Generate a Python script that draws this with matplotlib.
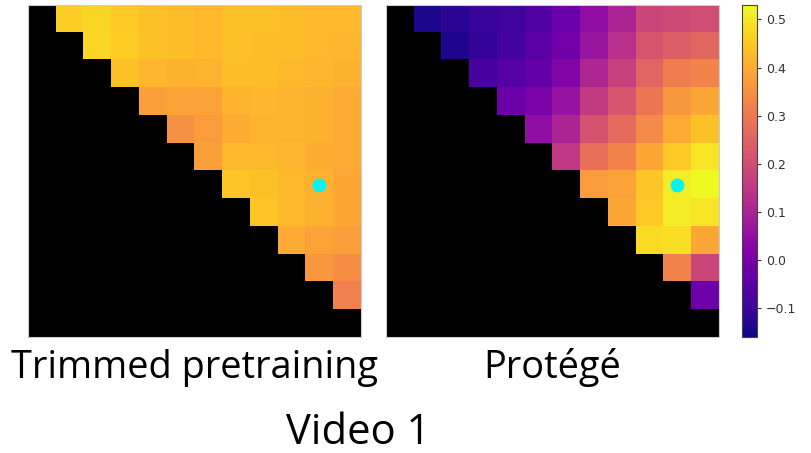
import matplotlib.pyplot as plt
import numpy as np

N = 12
VMIN, VMAX = -0.16, 0.53

# upper-triangle values, row i holds columns i+1 .. 11
trimmed_rows = [
    [0.462, 0.474, 0.454, 0.440, 0.433, 0.427, 0.440, 0.440, 0.433, 0.427, 0.427],
    [0.474, 0.458, 0.440, 0.433, 0.427, 0.440, 0.433, 0.433, 0.427, 0.420],
    [0.440, 0.420, 0.413, 0.416, 0.433, 0.433, 0.427, 0.420, 0.413],
    [0.378, 0.385, 0.385, 0.416, 0.420, 0.416, 0.413, 0.399],
    [0.351, 0.371, 0.406, 0.416, 0.416, 0.413, 0.399],
    [0.378, 0.427, 0.427, 0.420, 0.406, 0.399],
    [0.447, 0.440, 0.427, 0.413, 0.392],
    [0.447, 0.427, 0.413, 0.392],
    [0.399, 0.385, 0.378],
    [0.364, 0.344],
    [0.316],
]

protege_rows = [
    [-0.146, -0.125, -0.105, -0.091, -0.063, -0.022, 0.047, 0.102, 0.185, 0.192, 0.199],
    [-0.139, -0.112, -0.084, -0.050, -0.008, 0.068, 0.130, 0.220, 0.240, 0.260],
    [-0.077, -0.057, -0.036, 0.019, 0.109, 0.171, 0.254, 0.309, 0.323],
    [-0.022, 0.006, 0.061, 0.157, 0.220, 0.295, 0.364, 0.392],
    [0.047, 0.102, 0.213, 0.268, 0.337, 0.399, 0.440],
    [0.150, 0.282, 0.323, 0.392, 0.454, 0.496],
    [0.371, 0.385, 0.447, 0.509, 0.530],
    [0.392, 0.454, 0.509, 0.496],
    [0.482, 0.489, 0.392],
    [0.323, 0.185],
    [-0.015],
]

marker_row, marker_col = 6, 10

titles = ["Trimmed pretraining", "Protégé"]
suptitle = "Video 1"
cbar_ticks = [-0.1, 0.0, 0.1, 0.2, 0.3, 0.4, 0.5]


def to_matrix(rows):
    m = np.full((N, N), np.nan)
    for i, vals in enumerate(rows):
        m[i, i + 1:i + 1 + len(vals)] = vals
    return np.ma.masked_invalid(m)


cmap = plt.get_cmap("plasma").copy()
cmap.set_bad("black")

fig = plt.figure(figsize=(8.11, 4.53), dpi=100)
panels = [
    fig.add_axes([0.0345, 0.256, 0.4106, 0.733]),
    fig.add_axes([0.476, 0.256, 0.4106, 0.733]),
]

for ax, rows, title in zip(panels, [trimmed_rows, protege_rows], titles):
    im = ax.imshow(to_matrix(rows), cmap=cmap, vmin=VMIN, vmax=VMAX,
                   interpolation="nearest", aspect="auto")
    ax.scatter([marker_col], [marker_row], s=80, color="#00f5f5", zorder=3)
    ax.set_xticks([])
    ax.set_yticks([])
    for sp in ax.spines.values():
        sp.set_color("#cccccc")
        sp.set_linewidth(0.8)
    pos = ax.get_position()
    fig.text(pos.x0 + pos.width / 2, 0.166, title, ha="center", va="baseline",
             fontsize=27.3, family="Open Sans")

cax = fig.add_axes([0.915, 0.256, 0.0185, 0.733])
cb = fig.colorbar(im, cax=cax, ticks=cbar_ticks)
cb.outline.set_edgecolor("#444444")
cb.outline.set_linewidth(0.8)
cax.tick_params(labelsize=9, colors="#333333", length=3, width=0.8)

fig.text(0.442, 0.02, suptitle, ha="center", va="baseline", fontsize=30,
         family="Open Sans")

fig.savefig("out.png", dpi=100)
